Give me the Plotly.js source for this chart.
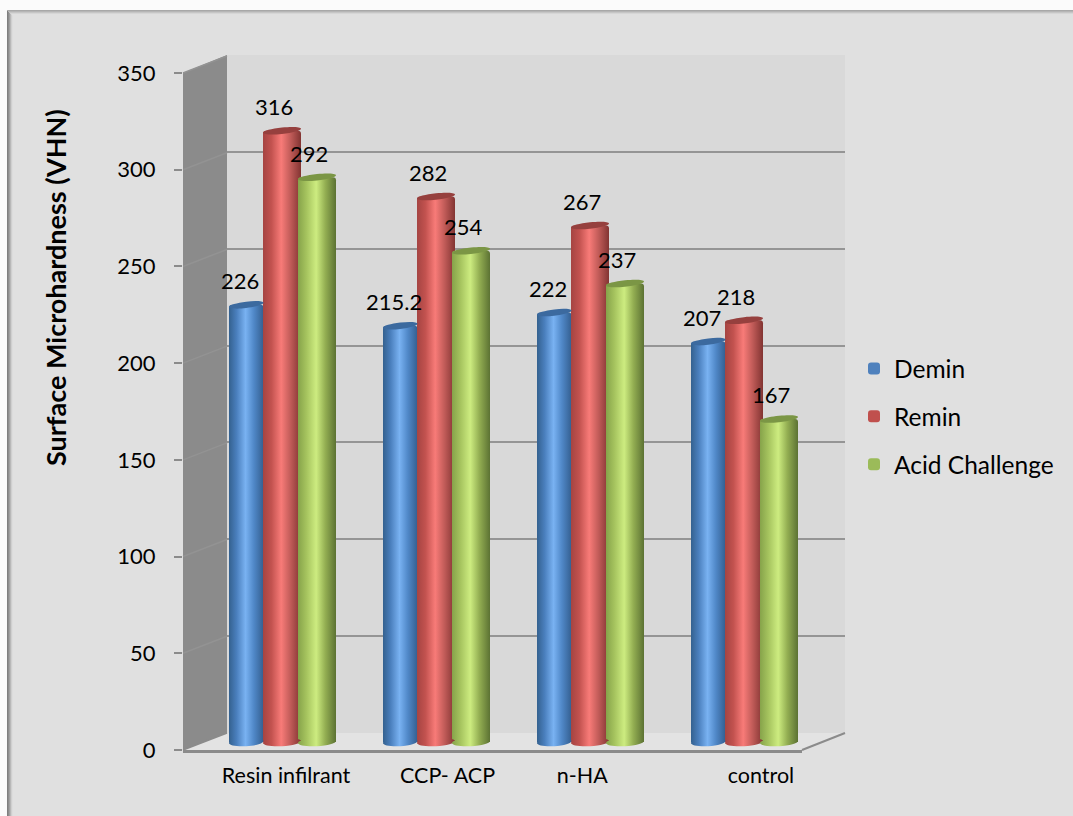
<!DOCTYPE html>
<html>
<head>
<meta charset="utf-8">
<script src="https://cdn.plot.ly/plotly-3.0.1.min.js"></script>
<style>html,body{margin:0;padding:0;background:#e0e0e0;overflow:hidden}#chart{width:1073px;height:816px}</style>
</head>
<body>
<div id="chart"></div>
<script>
// Surface microhardness per treatment and stage
const categories = ['Resin infilrant', 'CCP- ACP', 'n-HA', 'control'];
const demin = [226, 215.2, 222, 207];
const remin = [316, 282, 267, 218];
const acidChallenge = [292, 254, 237, 167];
const yTicks = [0, 50, 100, 150, 200, 250, 300, 350];

const W = 1073, H = 816;
const fx = p => p / W, fy = p => 1 - p / H;
const FONT = 'Lato, "Noto Sans", sans-serif';

// Pseudo-3D box, in pixels: front plane, back wall, and the plane the bars stand on
const front = {l: 183, r: 802, b: 750, t: 73};
const back = {l: 227, r: 845, b: 733, t: 55};
const barBase = 742;
const pxPerUnit = (front.b - front.t) / 350;
const groupStep = 154, firstGroupPx = 282;
const xRange = [(front.l - firstGroupPx) / groupStep, (front.r - firstGroupPx) / groupStep];
const pxToX = p => p / groupStep;
const groupX = categories.map((_, i) => i);

// Tick labels sit slightly off their group centres
const labelNudge = [0.026, 0.075, -0.05, 0.11];

const series = [
  {name: 'Demin', y: demin, color: '#4f81bd', cap: '#3c6a9f', left: -53, width: 34.5,
   stops: ['#34618f', '#4a7fbd', '#79b2f2', '#5088c8', '#345f90']},
  {name: 'Remin', y: remin, color: '#c0504d', cap: '#96403e', left: -19, width: 38,
   stops: ['#a54442', '#c2524f', '#f87b78', '#c25c59', '#823432']},
  {name: 'Acid Challenge', y: acidChallenge, color: '#9bbb59', cap: '#7b9645', left: 16, width: 38,
   stops: ['#86a34a', '#a5c35e', '#cdec80', '#93ae52', '#5c7233']}
];

const shapes = [];
const poly = (pts, fill, layer) => shapes.push({
  type: 'path', xref: 'paper', yref: 'paper', layer: layer || 'below', fillcolor: fill,
  line: {width: 0},
  path: 'M' + pts.map(p => fx(p[0]).toFixed(5) + ' ' + fy(p[1]).toFixed(5)).join(' L') + ' Z'
});
const seg = (x0, y0, x1, y1, color, width) => shapes.push({
  type: 'line', xref: 'paper', yref: 'paper', layer: 'below',
  x0: fx(x0), x1: fx(x1), y0: fy(y0), y1: fy(y1), line: {color, width}
});

// Bevelled frame along the top and left of the panel
poly([[0, 0], [W, 0], [W, 10], [7, 10], [7, H], [0, H]], '#fbfbfb');
const leftBevel = ['#7f7f7f', '#8d8d8d', '#a0a0a0', '#b8b8b8', '#cfcfcf', '#dcdcdc'];
const topBevel = ['#a8a8a8', '#b6b6b6', '#c6c6c6', '#d6d6d6'];
leftBevel.forEach((c, i) => poly([[7 + i, 10 + i], [8 + i, 11 + i], [8 + i, H], [7 + i, H]], c));
topBevel.forEach((c, i) => poly([[7 + i, 10 + i], [W, 10 + i], [W, 11 + i], [8 + i, 11 + i]], c));

// Walls and floor of the box
poly([[back.l, back.t], [back.r, back.t], [back.r, back.b], [back.l, back.b]], '#d9d9d9');
poly([[front.l, front.b], [back.l, back.b], [back.r, back.b], [front.r, front.b]], '#e3e3e3');
poly([[front.l, front.t], [back.l, back.t], [back.l, back.b], [front.l, front.b]], '#8b8b8b');
yTicks.forEach(v => {
  const d = v * pxPerUnit;
  seg(front.l, front.b - d, back.l, back.b - d, v === 0 ? '#8b8b8b' : '#939393', 1.5);
});
seg(front.r, front.b, back.r, back.b, '#8b8b8b', 2);

// Elliptical ends of a cylinder, given in data units (affine image of a circle)
function ellipsePath(cx, cy, a, b, s) {
  const k = 0.5523;
  const f = n => n.toFixed(4);
  const P = (x, y) => f(x) + ' ' + f(y);
  return 'M ' + P(cx + a, cy + s) +
    ' C ' + P(cx + a, cy + s + k * b) + ' ' + P(cx + k * a, cy + b + k * s) + ' ' + P(cx, cy + b) +
    ' C ' + P(cx - k * a, cy + b - k * s) + ' ' + P(cx - a, cy - s + k * b) + ' ' + P(cx - a, cy - s) +
    ' C ' + P(cx - a, cy - s - k * b) + ' ' + P(cx - k * a, cy - b - k * s) + ' ' + P(cx, cy - b) +
    ' C ' + P(cx + k * a, cy - b + k * s) + ' ' + P(cx + a, cy + s - k * b) + ' ' + P(cx + a, cy + s) + ' Z';
}

// Bottom ends go back-to-front so each cylinder overlaps the previous one
const gradientEnds = [];
series.forEach((s, si) => {
  groupX.forEach(x => {
    const cx = x + pxToX(s.left + s.width / 2);
    gradientEnds.push({index: shapes.length, si});
    shapes.push({type: 'path', xref: 'x3', yref: 'y3', layer: 'above', fillcolor: s.color,
      line: {width: 0}, path: ellipsePath(cx, 0, pxToX(s.width / 2), 4.2 / pxPerUnit, 1 / pxPerUnit)});
  });
});
series.forEach(s => {
  groupX.forEach((x, i) => {
    const cx = x + pxToX(s.left + s.width / 2);
    shapes.push({type: 'path', xref: 'x3', yref: 'y3', layer: 'above', fillcolor: s.cap,
      line: {width: 0},
      path: ellipsePath(cx, s.y[i], pxToX(s.width / 2), 3.2 / pxPerUnit, 2 / pxPerUnit)});
  });
});

// Value labels float above and a little to the left of each cylinder
const annotations = [];
series.forEach(s => {
  groupX.forEach((x, i) => {
    annotations.push({
      xref: 'x3', yref: 'y3', x: x + pxToX(s.left + 19), y: s.y[i], text: String(s.y[i]),
      showarrow: false, xanchor: 'center', yanchor: 'middle', xshift: -8, yshift: 24,
      font: {family: FONT, size: 22, color: '#000'}
    });
  });
});
annotations.push({
  xref: 'paper', yref: 'paper', x: fx(55), y: fy(288), text: '<b>Surface Microhardness (VHN)</b>',
  textangle: -90, showarrow: false, xanchor: 'center', yanchor: 'middle',
  font: {family: FONT, size: 27, color: '#000'}
});

const data = [
  {type: 'scatter', x: [], y: [], xaxis: 'x', yaxis: 'y', showlegend: false, hoverinfo: 'skip'},
  {type: 'scatter', x: [], y: [], xaxis: 'x2', yaxis: 'y2', showlegend: false, hoverinfo: 'skip'}
].concat(series.map(s => ({
  type: 'bar', name: s.name, legendgroup: s.name, x: groupX, y: s.y, xaxis: 'x3', yaxis: 'y3',
  width: pxToX(s.width), offset: pxToX(s.left),
  marker: {color: s.color, line: {width: 0}, cornerradius: 3}
})));

const hidden = {visible: true, showticklabels: false, showgrid: false, showline: false, zeroline: false, ticks: ''};
// Bar plane runs a few pixels under zero so the rounded bottom ends are not clipped
const underZero = 8;
const layout = {
  width: W, height: H, margin: {l: 0, r: 0, t: 0, b: 0, pad: 0},
  paper_bgcolor: '#e0e0e0', plot_bgcolor: 'rgba(0,0,0,0)',
  barmode: 'overlay', shapes, annotations, hovermode: false,
  font: {family: FONT, color: '#000'},
  // Front plane: carries the tick labels
  xaxis: {domain: [fx(front.l), fx(front.r)], range: xRange, anchor: 'y', tickmode: 'array',
    tickvals: groupX.map((x, i) => x + labelNudge[i]), ticktext: categories,
    showgrid: false, zeroline: false, ticks: '', showline: true, linecolor: '#8b8b8b', linewidth: 3,
    ticklabelstandoff: 4, tickfont: {family: FONT, size: 21.5}},
  yaxis: {domain: [fy(front.b), fy(front.t)], range: [0, 350], anchor: 'x', tickmode: 'array',
    tickvals: yTicks, showgrid: false, zeroline: false, ticks: 'outside', ticklen: 8, tickwidth: 2,
    tickcolor: '#8b8b8b', showline: false, ticklabelstandoff: 14, tickfont: {family: FONT, size: 22}},
  // Back wall: carries the gridlines
  xaxis2: Object.assign({domain: [fx(back.l), fx(back.r)], range: [0, 1], anchor: 'y2'}, hidden),
  yaxis2: Object.assign({domain: [fy(back.b), fy(back.t)], range: [0, 350], anchor: 'x2'}, hidden,
    {showgrid: true, gridcolor: '#959595', gridwidth: 2, tickmode: 'array', tickvals: yTicks}),
  // Plane the cylinders stand on
  xaxis3: Object.assign({domain: [fx(front.l), fx(front.r)], range: xRange, anchor: 'y3'}, hidden),
  yaxis3: Object.assign({domain: [fy(barBase + underZero), fy(barBase - 350 * pxPerUnit)],
    range: [-underZero / pxPerUnit, 350], anchor: 'x3'}, hidden),
  legend: {x: fx(854), y: fy(346), xanchor: 'left', yanchor: 'top', bgcolor: 'rgba(0,0,0,0)',
    traceorder: 'grouped', tracegroupgap: 13, font: {family: FONT, size: 24.5}}
};

Plotly.newPlot('chart', data, layout, {displayModeBar: false, staticPlot: false}).then(gd => {
  // Cylinder shading: horizontal gradients on the bodies and their bottom ends
  const ns = 'http://www.w3.org/2000/svg';
  const defs = gd.querySelector('.main-svg defs');
  const offsets = ['0%', '22%', '48%', '72%', '100%'];
  series.forEach((s, si) => {
    const g = document.createElementNS(ns, 'linearGradient');
    g.setAttribute('id', 'cyl' + si);
    offsets.forEach((o, k) => {
      const st = document.createElementNS(ns, 'stop');
      st.setAttribute('offset', o);
      st.setAttribute('stop-color', s.stops[k]);
      g.appendChild(st);
    });
    defs.appendChild(g);
  });
  gd.querySelectorAll('.barlayer .trace.bars').forEach((t, si) => {
    t.querySelectorAll('.point path').forEach(p => { p.style.fill = 'url(#cyl' + si + ')'; });
  });
  gradientEnds.forEach(e => {
    const p = gd.querySelector('.layer-above .shapelayer path[data-index="' + e.index + '"]');
    if (p) p.style.fill = 'url(#cyl' + e.si + ')';
  });
  // Larger square legend swatches, nearer their labels
  gd.querySelectorAll('.legend .legendbar').forEach(p => {
    p.setAttribute('d', 'M6,6H-6V-6H6Z');
    p.setAttribute('transform', 'translate(26.5,0) scale(1.25)');
  });
});
</script>
</body>
</html>
